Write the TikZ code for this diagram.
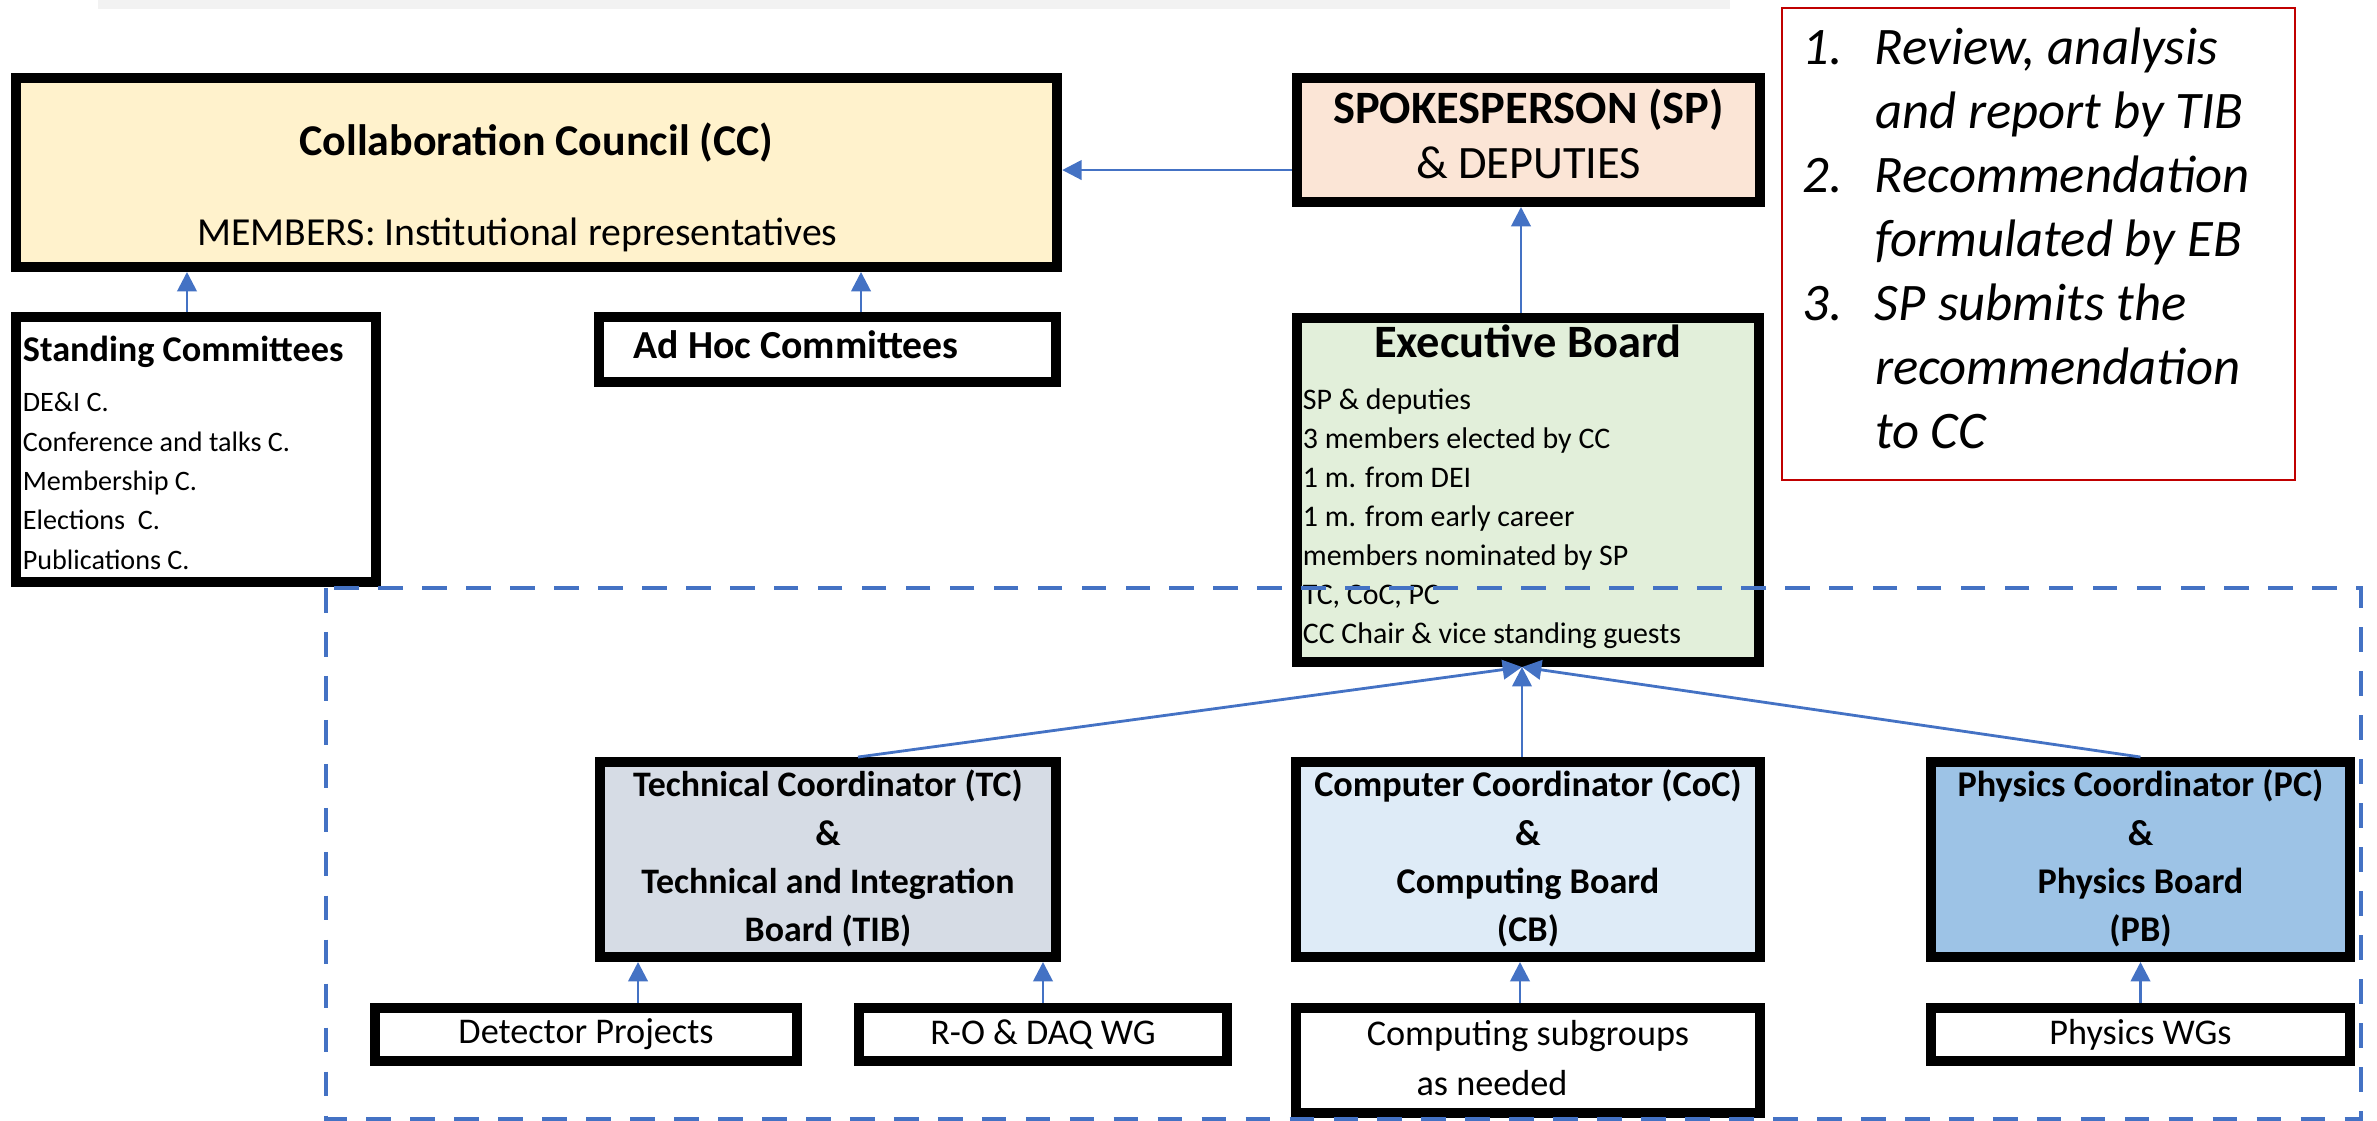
\documentclass[tikz,border=0pt]{standalone}
\usepackage{fontspec}
\setmainfont{Carlito}
\usetikzlibrary{arrows.meta}

\definecolor{ccyellow}{HTML}{FFF2CC}
\definecolor{sppeach}{HTML}{FBE5D6}
\definecolor{ebgreen}{HTML}{E2EFDA}
\definecolor{tibgrey}{HTML}{D6DCE5}
\definecolor{cocblue}{HTML}{DEEBF7}
\definecolor{pcblue}{HTML}{9DC3E6}
\definecolor{lineblue}{HTML}{4472C4}
\definecolor{stepred}{HTML}{C00000}
\definecolor{stripgrey}{HTML}{F2F2F2}

\begin{document}
\begin{tikzpicture}[x=0.01cm, y=-0.01cm,
    box/.style={draw=black, line width=2.8pt, inner sep=0pt},
    uparrow/.style={draw=lineblue, line width=0.8pt, -{Triangle[length=5.5pt,width=5.5pt]}}]
    \useasboundingbox (0,0) rectangle (2377,1120);

    % Grey strip at the top
    \fill[stripgrey] (98,0) rectangle (1730,9);

    % Top row: council and spokesperson
    \node[box, fill=ccyellow, minimum width=10.41cm, minimum height=1.89cm,
          font=\fontsize{11.3}{13}\selectfont] (cc) at (536.5,172.5)
        {\begin{tabular}{@{}c@{}}
         \rule{0pt}{20pt}{\fontsize{12.5}{16}\selectfont\bfseries Collaboration Council (CC)}\\[12.6pt]
         MEMBERS: Institutional representatives\hspace*{0.38cm}
         \end{tabular}};
    \node[box, fill=sppeach, minimum width=4.63cm, minimum height=1.24cm,
          font=\fontsize{13.2}{15.6}\selectfont] (sp) at (1528.5,140)
        {\begin{tabular}{@{}c@{}}\bfseries SPOKESPERSON (SP)\\ \& DEPUTIES\end{tabular}};

    % Steps box (red)
    \node[draw=stepred, line width=0.6pt, minimum width=5.13cm, minimum height=4.72cm,
          inner sep=0pt, font=\itshape\fontsize{15}{18.2}\selectfont] (steps) at (2038.5,244)
        {\begin{tabular}{@{}p{20.5pt}@{}l@{\hspace*{0.24cm}}}
         1. & Review, analysis\\
            & and report by TIB\\
         2. & Recommendation\\
            & formulated by EB\\
         3. & SP submits the\\
            & recommendation\\
            & to CC
         \end{tabular}};

    % Committees
    \node[box, fill=white, minimum width=3.6cm, minimum height=2.65cm,
          font=\fontsize{8}{11.2}\selectfont] (sc) at (196,449.5)
        {\begin{tabular}{@{}p{3.46cm}@{}}
         \rule{0pt}{12.5pt}{\fontsize{10.3}{12}\selectfont\bfseries Standing Committees}\\[3pt]
         DE\&I C.\\
         Conference and talks C.\\
         Membership C.\\
         Elections\ \ C.\\
         Publications C.
         \end{tabular}};
    \node[box, fill=white, minimum width=4.57cm, minimum height=0.65cm,
          font=\fontsize{11.3}{13}\selectfont\bfseries] (ah) at (827.5,349.5)
        {\begin{tabular}{@{}p{3.87cm}@{}}Ad Hoc Committees\end{tabular}};

    % Executive board
    \node[box, fill=ebgreen, minimum width=4.62cm, minimum height=3.44cm,
          font=\fontsize{8.5}{11.1}\selectfont] (eb) at (1528,490)
        {\begin{tabular}{@{}p{4.5cm}@{}}
         \multicolumn{1}{@{}c@{}}{\fontsize{13.2}{15}\selectfont\bfseries Executive Board}\\[3.8pt]
         SP \& deputies\\
         3 members elected by CC\\
         1 m. from DEI\\
         1 m. from early career\\
         members nominated by SP\\
         TC, CoC, PC\\
         CC Chair \& vice standing guests
         \end{tabular}};

    % Coordinators and boards
    \node[box, fill=tibgrey, minimum width=4.56cm, minimum height=1.95cm,
          font=\fontsize{10.2}{13.7}\selectfont\bfseries] (tib) at (828,859.5)
        {\begin{tabular}{@{}c@{}}Technical Coordinator (TC)\\ \&\\ Technical and Integration\\ Board (TIB)\end{tabular}};
    \node[box, fill=cocblue, minimum width=4.64cm, minimum height=1.95cm,
          font=\fontsize{10.3}{13.7}\selectfont\bfseries] (coc) at (1528,859.5)
        {\begin{tabular}{@{}c@{}}Computer Coordinator (CoC)\\ \&\\ Computing Board\\ (CB)\end{tabular}};
    \node[box, fill=pcblue, minimum width=4.19cm, minimum height=1.95cm,
          font=\fontsize{10.3}{13.7}\selectfont\bfseries] (pc) at (2140.5,859.5)
        {\begin{tabular}{@{}c@{}}Physics Coordinator (PC)\\ \&\\ Physics Board\\ (PB)\end{tabular}};

    % Working groups
    \node[box, fill=white, minimum width=4.22cm, minimum height=0.53cm,
          font=\fontsize{10.3}{14.2}\selectfont] (det) at (586,1034.5) {Detector Projects};
    \node[box, fill=white, minimum width=3.68cm, minimum height=0.53cm,
          font=\fontsize{10.3}{14.2}\selectfont] (ro) at (1043,1034.5) {R-O \& DAQ WG};
    \node[box, fill=white, minimum width=4.64cm, minimum height=1.05cm,
          font=\fontsize{10.3}{14.2}\selectfont] (csub) at (1528,1060.5)
        {\begin{tabular}{@{}c@{}}Computing subgroups\\ as needed\hspace*{0.72cm}\end{tabular}};
    \node[box, fill=white, minimum width=4.19cm, minimum height=0.53cm,
          font=\fontsize{10.3}{14.2}\selectfont] (pwg) at (2140.5,1034.5) {Physics WGs};

    % Dashed frame round the boards
    \draw[lineblue, line width=1.4pt, dash pattern=on 7pt off 5.5pt] (326,588) rectangle (2361,1119);

    % Reporting lines
    \draw[uparrow] ([yshift=-0.3cm]sp.west) -- ([yshift=-0.3cm]sp.west -| cc.east);
    \draw[uparrow] ([xshift=-0.09cm]sc.north) -- ([xshift=-0.09cm]sc.north |- cc.south);
    \draw[uparrow] ([xshift=0.335cm]ah.north) -- ([xshift=0.335cm]ah.north |- cc.south);
    \draw[uparrow] ([xshift=-0.07cm]eb.north) -- ([xshift=-0.07cm]eb.north |- sp.south);
    \draw[uparrow] ([xshift=0.3cm]tib.north) -- ([xshift=-0.06cm]eb.south);
    \draw[uparrow] ([xshift=-0.06cm]coc.north) -- ([xshift=-0.06cm]eb.south);
    \draw[uparrow] (pc.north) -- ([xshift=-0.06cm]eb.south);
    \draw[uparrow] ([xshift=0.52cm]det.north) -- ([xshift=0.52cm]det.north |- tib.south);
    \draw[uparrow] (ro.north) -- (ro.north |- tib.south);
    \draw[uparrow] ([xshift=-0.08cm]csub.north) -- ([xshift=-0.08cm]csub.north |- coc.south);
    \draw[uparrow] (pwg.north) -- (pwg.north |- pc.south);
\end{tikzpicture}
\end{document}
